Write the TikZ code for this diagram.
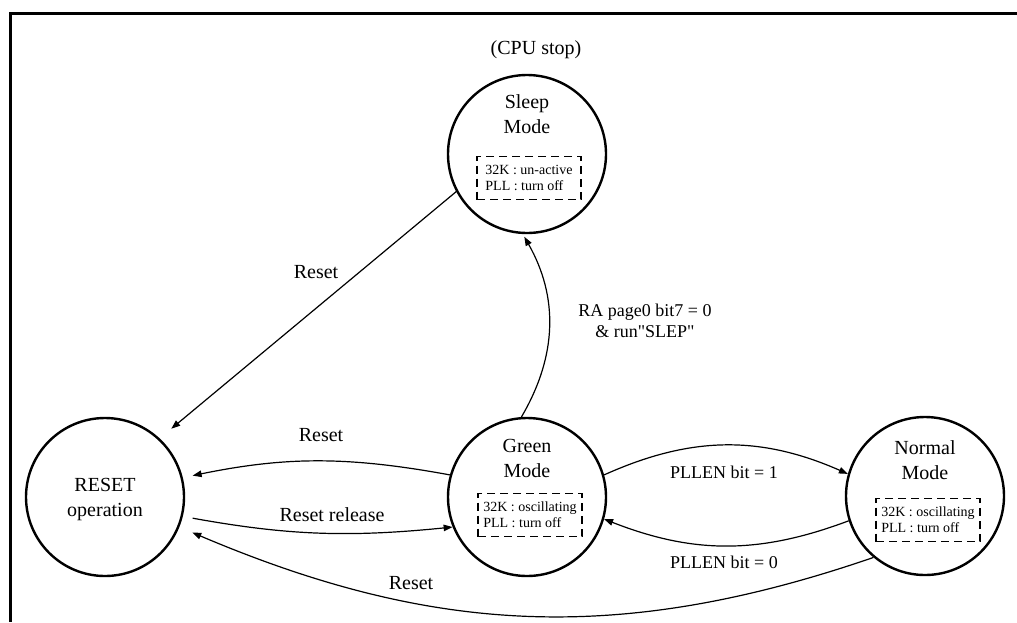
\documentclass[tikz,border=0pt]{standalone}
\usepackage{fontspec}
\setmainfont{Liberation Serif}
\newfontfamily\quotefont{Liberation Serif}
\usetikzlibrary{arrows.meta}

\begin{document}
\begin{tikzpicture}[x=1pt,y=1pt,
  mode/.style={circle,draw,line width=2.4pt,minimum size=158pt,inner sep=0pt},
  title/.style={align=center,inner sep=0pt,font=\fontsize{20}{25}\selectfont},
  info/.style={draw,dash pattern=on 8pt off 5pt,line width=1.6pt,
               minimum width=104pt,minimum height=43pt,align=left,
               inner sep=0pt,font=\fontsize{14}{16}\selectfont},
  lbl/.style={inner sep=0pt,font=\fontsize{20}{25}\selectfont},
  cond/.style={inner sep=0pt,align=center,font=\fontsize{18}{21}\selectfont},
  trans/.style={-{Triangle[length=9pt,width=6.5pt]},line width=1.2pt}]
\useasboundingbox (0,0) rectangle (1017,-622);
\draw[line width=3pt] (1017,-13) -| (10,-622);

\node[mode] (sleep) at (527,-154) {};
\node[mode] (reset) at (105,-497) {};
\node[mode] (green) at (527,-497) {};
\node[mode] (normal) at (925,-496) {};

\node[lbl] (cpustop) at (536,-50) {(CPU stop)};
\node[title] (sleeptitle) at (527,-114) {Sleep\\Mode};
\node[title] (resettitle) at (105,-499) {RESET\\operation};
\node[title] (greentitle) at (527,-458) {Green\\Mode};
\node[title] (normaltitle) at (925,-460) {Normal\\Mode};

\node[info] (sleepinfo) at (529,-178) {32K : un-active\\PLL : turn off};
\node[info] (greeninfo) at (530,-515) {32K : oscillating\\PLL : turn off};
\node[info] (normalinfo) at (928,-520) {32K : oscillating\\PLL : turn off};

\node[lbl] (lsleepreset) at (316,-272) {Reset};
\node[lbl] (lgreenreset) at (321,-435) {Reset};
\node[lbl] (lrelease) at (332,-515) {Reset release};
\node[lbl] (lnormalreset) at (411,-583) {Reset};
\node[cond] (lpllon) at (724,-472) {PLLEN bit = 1};
\node[cond] (lplloff) at (724,-562) {PLLEN bit = 0};
\node[cond] (lsleep) at (645,-321) {RA page0 bit7 = 0\\\& run{\quotefont"}SLEP{\quotefont"}};

\draw[trans,shorten >=15pt] (sleep.208) -- (reset.47);
\draw[trans,shorten >=3pt] (green.94) to[bend right=30] (sleep.267);
\draw[trans,shorten >=10pt] (green.164) to[bend right=11] (reset.14);
\draw[trans,shorten <=10pt] (reset.-14) to[bend right=8] (green.202);
\draw[trans] (green.16) to[bend left=24] (normal.164);
\draw[trans] (normal.198) to[bend left=21] (green.-16);
\draw[trans,shorten >=14pt] (normal.230) to[out=199,in=337] (reset.-22);
\end{tikzpicture}
\end{document}
